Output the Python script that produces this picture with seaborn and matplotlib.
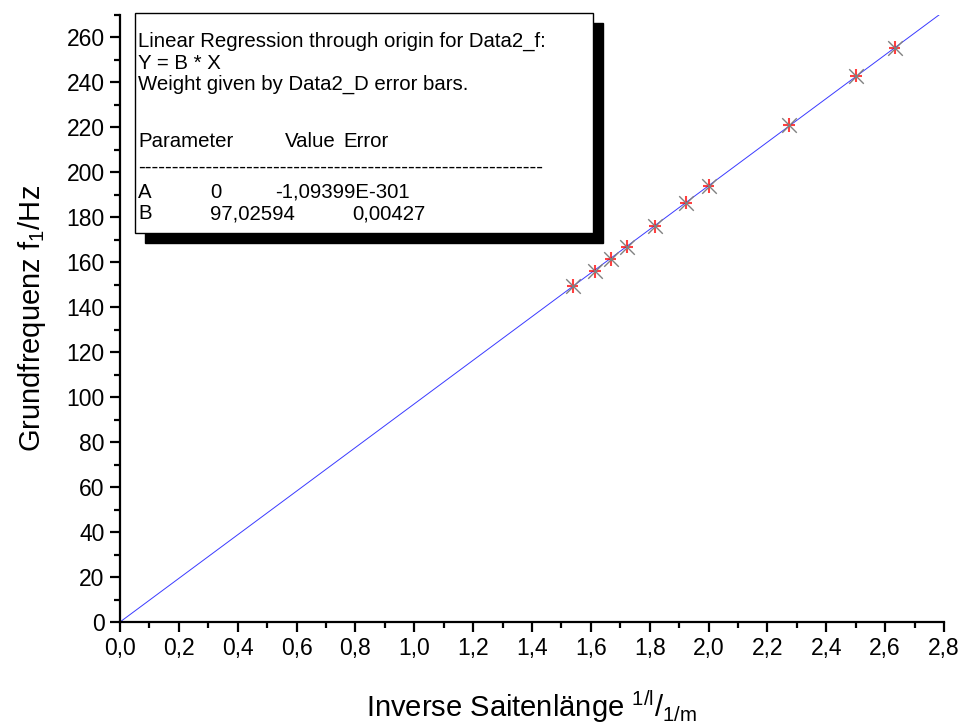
import numpy as np
import matplotlib
matplotlib.use("Agg")
import matplotlib.pyplot as plt
import seaborn as sns
from matplotlib.patches import Rectangle
from matplotlib.ticker import MultipleLocator, FuncFormatter

# inverse string length (1/m) and fundamental frequency (Hz)
inv_length = [1.538, 1.613, 1.667, 1.724, 1.818, 1.923, 2.000, 2.273, 2.500, 2.632]
freq = [149.5, 156.0, 161.5, 167.0, 176.0, 186.5, 194.0, 221.0, 243.0, 255.5]
x_err = [0.02] * 10
y_err = [3.0] * 10

slope_b = 97.02594
fit_x = [0.0, 2.8]
fit_y = [0.0, slope_b * 2.8]

box_lines = [
    "Linear Regression through origin for Data2_f:",
    "Y = B * X",
    "Weight given by Data2_D error bars.",
]

sns.set_style("ticks")
plt.rcParams['font.family'] = ['Liberation Sans', 'DejaVu Sans']
plt.rcParams['mathtext.fontset'] = 'custom'
plt.rcParams['mathtext.rm'] = 'Liberation Sans'
for k in ['text.color', 'axes.labelcolor', 'xtick.color', 'ytick.color', 'axes.edgecolor']:
    plt.rcParams[k] = 'black'

fig = plt.figure(figsize=(9.63, 7.28), dpi=100)
W, H = 963, 728
ax = fig.add_axes([120 / W, 1 - 622 / H, 824 / W, 607 / H])

sns.lineplot(x=fit_x, y=fit_y, ax=ax, color='#3a3aff', linewidth=0.7)
ax.errorbar(inv_length, freq, xerr=x_err, yerr=y_err, fmt='none',
            ecolor='red', elinewidth=1.5, alpha=0.75, capsize=0, zorder=3)
sns.scatterplot(x=inv_length, y=freq, ax=ax, marker='x', s=110,
                color='#808080', linewidth=1.0, zorder=4)

ax.set_xlim(0, 2.8)
ax.set_ylim(0, 270)
ax.xaxis.set_major_locator(MultipleLocator(0.2))
ax.xaxis.set_minor_locator(MultipleLocator(0.1))
ax.yaxis.set_major_locator(MultipleLocator(20))
ax.yaxis.set_minor_locator(MultipleLocator(10))
ax.xaxis.set_major_formatter(FuncFormatter(lambda v, p: f"{v:.1f}".replace('.', ',')))
sns.despine(ax=ax)
for s in ['left', 'bottom']:
    ax.spines[s].set_linewidth(1.6)
ax.tick_params(which='major', length=7, width=1.6, labelsize=16.5, direction='out', pad=4)
ax.tick_params(which='minor', length=4, width=1.6, direction='out')

ax.set_xlabel(r"Inverse Saitenlänge $^{\mathregular{1/l}}/_{\mathregular{1/m}}$",
              fontsize=21, labelpad=20)
ax.set_ylabel(r"Grundfrequenz f$_{\mathregular{1}}$/Hz", fontsize=21, labelpad=13)

# result box with drop shadow
def fx(px):
    return px / W

def fy(py):
    return 1 - py / H

fig.patches.append(Rectangle((fx(145), fy(243)), fx(593) - fx(135), fy(13) - fy(233),
                             transform=fig.transFigure, facecolor='black',
                             edgecolor='black', zorder=5))
fig.patches.append(Rectangle((fx(135), fy(233)), fx(593) - fx(135), fy(13) - fy(233),
                             transform=fig.transFigure, facecolor='white',
                             edgecolor='black', linewidth=1.0, zorder=6))

tfont = 14.7
def box_text(px, py, s):
    fig.text(fx(px), fy(py), s, fontsize=tfont, va='baseline', zorder=7)

for i, line in enumerate(box_lines):
    box_text(138, [47, 69, 90][i], line)
box_text(138, 147, "Parameter")
box_text(285, 147, "Value")
box_text(343, 147, "Error")
box_text(138, 173, "-" * 60)
box_text(138, 198, "A")
box_text(210, 198, "0")
box_text(275, 198, "-1,09399E-301")
box_text(138, 219, "B")
box_text(210, 219, "97,02594")
box_text(352, 219, "0,00427")

fig.savefig('out.png', dpi=100)
